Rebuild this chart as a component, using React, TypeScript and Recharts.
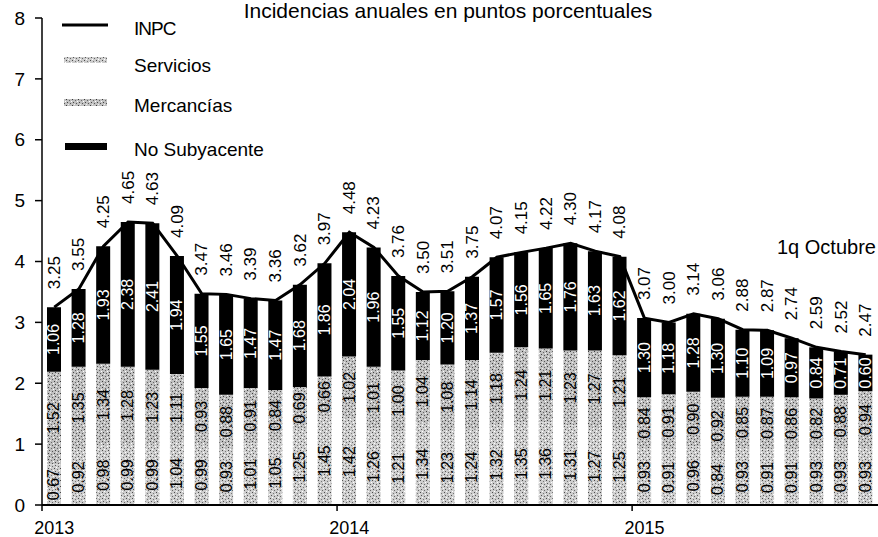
import { ComposedChart, Bar, Line, XAxis, YAxis, LabelList } from "recharts"

const meses = [
  "ene-13", "feb-13", "mar-13", "abr-13", "may-13", "jun-13", "jul-13", "ago-13", "sep-13", "oct-13", "nov-13", "dic-13",
  "ene-14", "feb-14", "mar-14", "abr-14", "may-14", "jun-14", "jul-14", "ago-14", "sep-14", "oct-14", "nov-14", "dic-14",
  "ene-15", "feb-15", "mar-15", "abr-15", "may-15", "jun-15", "jul-15", "ago-15", "sep-15", "oct-15",
]

const inpc = [
  3.25, 3.55, 4.25, 4.65, 4.63, 4.09, 3.47, 3.46, 3.39, 3.36, 3.62, 3.97,
  4.48, 4.23, 3.76, 3.5, 3.51, 3.75, 4.07, 4.15, 4.22, 4.3, 4.17, 4.08,
  3.07, 3.0, 3.14, 3.06, 2.88, 2.87, 2.74, 2.59, 2.52, 2.47,
]

const servicios = [
  0.67, 0.92, 0.98, 0.99, 0.99, 1.04, 0.99, 0.93, 1.01, 1.05, 1.25, 1.45,
  1.42, 1.26, 1.21, 1.34, 1.23, 1.24, 1.32, 1.35, 1.36, 1.31, 1.27, 1.25,
  0.93, 0.91, 0.96, 0.84, 0.93, 0.91, 0.91, 0.93, 0.93, 0.93,
]

const mercancias = [
  1.52, 1.35, 1.34, 1.28, 1.23, 1.11, 0.93, 0.88, 0.91, 0.84, 0.69, 0.66,
  1.02, 1.01, 1.0, 1.04, 1.08, 1.14, 1.18, 1.24, 1.21, 1.23, 1.27, 1.21,
  0.84, 0.91, 0.9, 0.92, 0.85, 0.87, 0.86, 0.82, 0.88, 0.94,
]

const noSubyacente = [
  1.06, 1.28, 1.93, 2.38, 2.41, 1.94, 1.55, 1.65, 1.47, 1.47, 1.68, 1.86,
  2.04, 1.96, 1.55, 1.12, 1.2, 1.37, 1.57, 1.56, 1.65, 1.76, 1.63, 1.62,
  1.3, 1.18, 1.28, 1.3, 1.1, 1.09, 0.97, 0.84, 0.71, 0.6,
]

const yTicks = [0, 1, 2, 3, 4, 5, 6, 7, 8]

const data = meses.map((mes, i) => ({
  mes,
  inpc: inpc[i],
  servicios: servicios[i],
  mercancias: mercancias[i],
  noSubyacente: noSubyacente[i],
}))

const FONT = '"Liberation Sans", Arial, sans-serif'

// speckled fills, like the scanned original
function Patterns({ suffix = "" }: { suffix?: string }) {
  return (
    <defs>
      <pattern id={"pServ" + suffix} width="6" height="6" patternUnits="userSpaceOnUse">
        <rect width="6" height="6" fill="#cdcdcd" />
        <rect x="0" y="0" width="1" height="1" fill="#4a4a4a" />
        <rect x="3" y="1" width="1" height="1" fill="#777" />
        <rect x="1" y="3" width="1" height="1" fill="#555" />
        <rect x="4" y="4" width="1" height="1" fill="#666" />
        <rect x="2" y="5" width="1" height="1" fill="#fff" />
        <rect x="5" y="2" width="1" height="1" fill="#fff" />
      </pattern>
      <pattern id={"pMerc" + suffix} width="6" height="6" patternUnits="userSpaceOnUse">
        <rect width="6" height="6" fill="#c0c0c0" />
        <rect x="1" y="0" width="1" height="1" fill="#444" />
        <rect x="4" y="1" width="1" height="1" fill="#555" />
        <rect x="0" y="3" width="1" height="1" fill="#3a3a3a" />
        <rect x="3" y="4" width="1" height="1" fill="#666" />
        <rect x="5" y="5" width="1" height="1" fill="#fff" />
        <rect x="2" y="2" width="1" height="1" fill="#eee" />
      </pattern>
    </defs>
  )
}

const segLabel = (color: string) => (props: any) => {
  const { x, y, width, height, value } = props
  const cx = x + width / 2
  const cy = y + height / 2
  return (
    <text
      x={cx}
      y={cy}
      transform={`rotate(-90 ${cx} ${cy})`}
      textAnchor="middle"
      dominantBaseline="central"
      fontSize={16}
      fontFamily={FONT}
      fill={color}
    >
      {Number(value).toFixed(2)}
    </text>
  )
}

function TotalLabel(props: any) {
  const { x, y, value } = props
  const ty = y - 18
  return (
    <text
      x={x}
      y={ty}
      transform={`rotate(-90 ${x} ${ty})`}
      textAnchor="start"
      dominantBaseline="central"
      fontSize={17}
      fontFamily={FONT}
      fill="#000"
    >
      {Number(value).toFixed(2)}
    </text>
  )
}

function YearTick(props: any) {
  const { x, y, payload } = props
  const v = String(payload.value)
  if (!v.startsWith("ene")) return <g />
  const off = payload.offset ?? 12
  return (
    <g>
      <line x1={x - off} x2={x - off} y1={y} y2={y + 6} stroke="#000" strokeWidth={1.5} />
      <text x={x} y={y + 29} textAnchor="middle" fontSize={18} fontFamily={FONT} fill="#000">
        {"20" + v.slice(4)}
      </text>
    </g>
  )
}

function ChartLegend() {
  const items = [
    { name: "INPC", y: 25 },
    { name: "Servicios", y: 62 },
    { name: "Mercancías", y: 102 },
    { name: "No Subyacente", y: 146 },
  ]
  return (
    <svg width={300} height={170} style={{ position: "absolute", left: 0, top: 0 }}>
      <Patterns suffix="L" />
      <line x1={62} x2={108} y1={25} y2={25} stroke="#000" strokeWidth={3} />
      <rect x={64} y={57} width={43} height={6} fill="url(#pServL)" />
      <rect x={64} y={99} width={43} height={7} fill="url(#pMercL)" />
      <rect x={65} y={143} width={42} height={7} fill="#000" />
      {items.map((it) => (
        <text
          key={it.name}
          x={134}
          y={it.y + 3}
          dominantBaseline="central"
          fontSize={19}
          fontFamily={FONT}
          fill="#000"
          letterSpacing={it.name === "INPC" ? -1 : 0}
        >
          {it.name}
        </text>
      ))}
    </svg>
  )
}

export default function App() {
  return (
    <div
      style={{
        position: "absolute",
        left: 0,
        top: 0,
        width: 878,
        height: 537,
        background: "#fff",
        overflow: "hidden",
        fontFamily: FONT,
      }}
    >
      <ComposedChart
        width={878}
        height={537}
        data={data}
        margin={{ top: 18, right: 0, left: 0, bottom: 0 }}
        barSize={14}
      >
        <Patterns />
        <XAxis
          dataKey="mes"
          interval={0}
          height={32}
          tickLine={false}
          tickSize={0}
          tickMargin={0}
          axisLine={{ stroke: "#000", strokeWidth: 2 }}
          tick={<YearTick />}
        />
        <YAxis
          width={42}
          domain={[0, 8]}
          ticks={yTicks}
          interval={0}
          tickSize={7}
          tickMargin={10}
          axisLine={{ stroke: "#000", strokeWidth: 1.5 }}
          tickLine={{ stroke: "#000", strokeWidth: 1.5 }}
          tick={{ fill: "#000", fontSize: 19, fontFamily: FONT }}
        />
        <Bar dataKey="servicios" name="Servicios" stackId="a" fill="url(#pServ)" isAnimationActive={false}>
          <LabelList dataKey="servicios" content={segLabel("#000")} />
        </Bar>
        <Bar dataKey="mercancias" name="Mercancías" stackId="a" fill="url(#pMerc)" isAnimationActive={false}>
          <LabelList dataKey="mercancias" content={segLabel("#000")} />
        </Bar>
        <Bar dataKey="noSubyacente" name="No Subyacente" stackId="a" fill="#000" isAnimationActive={false}>
          <LabelList dataKey="noSubyacente" content={segLabel("#fff")} />
        </Bar>
        <Line
          type="linear"
          dataKey="inpc"
          name="INPC"
          stroke="#000"
          strokeWidth={3}
          dot={false}
          isAnimationActive={false}
        >
          <LabelList dataKey="inpc" content={TotalLabel} />
        </Line>
      </ComposedChart>
      <div
        style={{
          position: "absolute",
          left: 0,
          width: 896,
          top: 0,
          textAlign: "center",
          fontSize: 21,
          lineHeight: "22px",
          color: "#000",
          whiteSpace: "nowrap",
        }}
      >
        Incidencias anuales en puntos porcentuales
      </div>
      <ChartLegend />
      <div
        style={{
          position: "absolute",
          left: 777,
          top: 236,
          fontSize: 20,
          color: "#000",
          whiteSpace: "nowrap",
        }}
      >
        1q Octubre
      </div>
    </div>
  )
}
